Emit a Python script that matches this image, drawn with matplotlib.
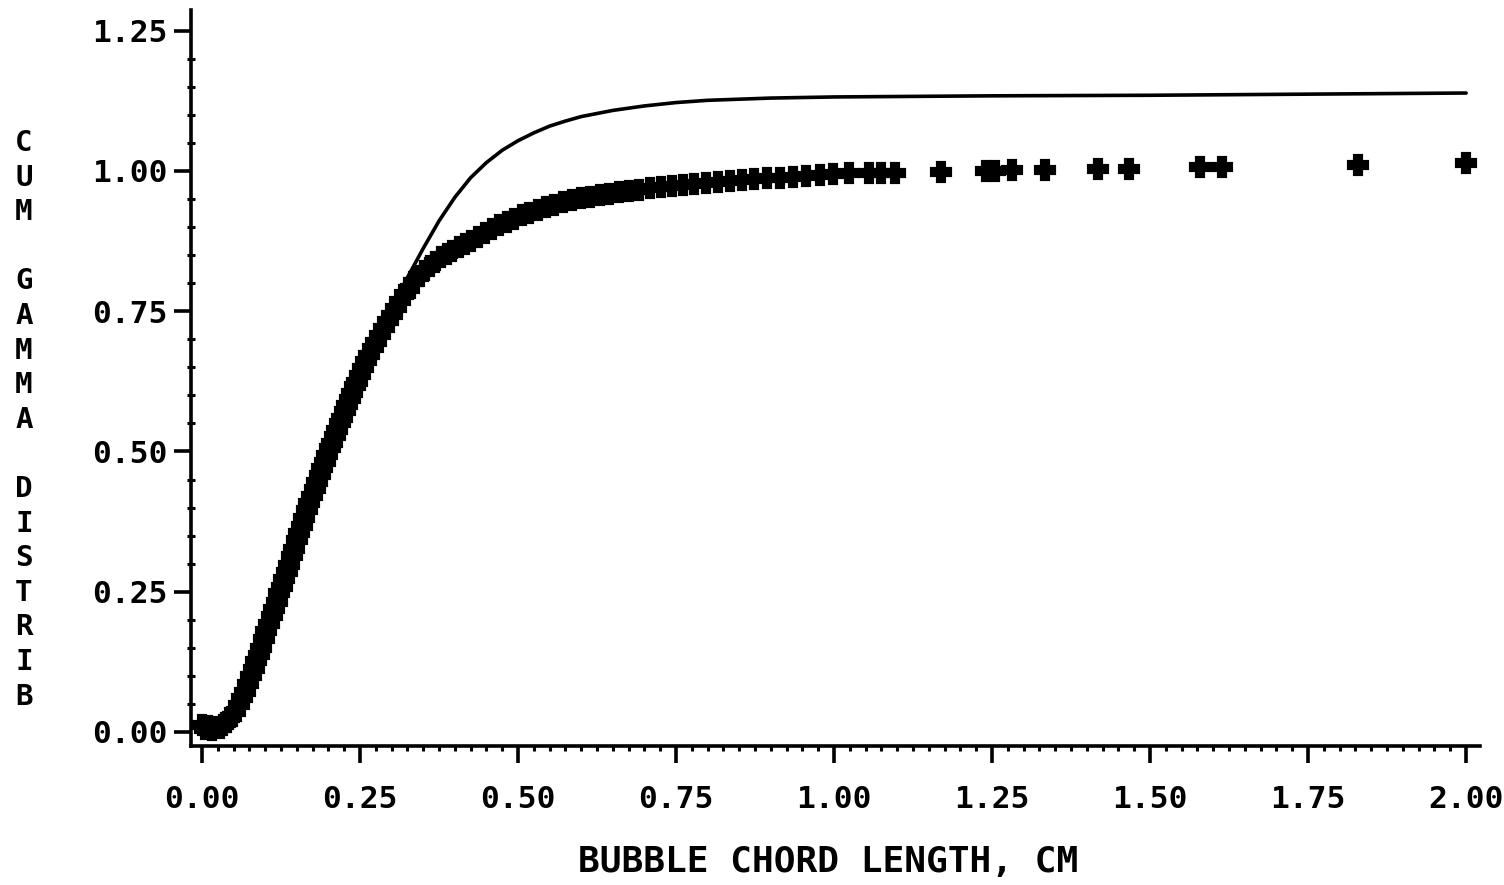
import matplotlib.pyplot as plt
from matplotlib.ticker import MultipleLocator, FormatStrFormatter

# measured bubble chord lengths (cm) and cumulative fraction
chord_x = [
    0.000, 0.004, 0.010, 0.016, 0.022, 0.028, 0.034, 0.040, 0.046, 0.052,
    0.058, 0.063, 0.068, 0.073, 0.078, 0.082, 0.086, 0.090, 0.094, 0.098,
    0.102, 0.106, 0.110, 0.114, 0.118, 0.122, 0.126, 0.130, 0.134, 0.138,
    0.142, 0.146, 0.150, 0.154, 0.158, 0.162, 0.166, 0.170, 0.174, 0.178,
    0.182, 0.186, 0.190, 0.194, 0.198, 0.202, 0.206, 0.210, 0.214, 0.218,
    0.222, 0.226, 0.230, 0.234, 0.238, 0.242, 0.246, 0.250, 0.255, 0.260,
    0.265, 0.270, 0.276, 0.282, 0.288, 0.294, 0.300, 0.307, 0.314, 0.321,
    0.328, 0.336, 0.344, 0.352, 0.360, 0.369, 0.378, 0.387, 0.396, 0.406,
    0.416, 0.426, 0.437, 0.448, 0.459, 0.470, 0.482, 0.494, 0.506, 0.518,
    0.531, 0.544, 0.557, 0.571, 0.585, 0.599, 0.614, 0.629, 0.644, 0.660,
    0.676, 0.692, 0.709, 0.726, 0.743, 0.761, 0.779, 0.797, 0.816, 0.835,
    0.854, 0.874, 0.894, 0.914, 0.935, 0.956, 0.977, 0.998, 1.023, 1.055,
    1.074, 1.097, 1.170, 1.240, 1.255, 1.282, 1.334, 1.417, 1.466, 1.579,
    1.614, 1.829, 2.000]
chord_cum = [
    0.012, 0.006, 0.010, 0.004, 0.008, 0.007, 0.012, 0.018, 0.026, 0.036,
    0.048, 0.060, 0.072, 0.086, 0.100, 0.112, 0.126, 0.138, 0.150, 0.165,
    0.180, 0.192, 0.206, 0.220, 0.232, 0.248, 0.258, 0.272, 0.286, 0.298,
    0.314, 0.326, 0.342, 0.354, 0.368, 0.382, 0.396, 0.408, 0.420, 0.434,
    0.446, 0.458, 0.470, 0.482, 0.494, 0.506, 0.516, 0.528, 0.538, 0.550,
    0.560, 0.572, 0.582, 0.594, 0.604, 0.616, 0.624, 0.636, 0.648, 0.662,
    0.672, 0.684, 0.696, 0.708, 0.720, 0.732, 0.743, 0.756, 0.768, 0.780,
    0.790, 0.802, 0.812, 0.822, 0.830, 0.838, 0.846, 0.852, 0.858, 0.864,
    0.870, 0.876, 0.883, 0.890, 0.896, 0.903, 0.909, 0.915, 0.921, 0.926,
    0.931, 0.936, 0.940, 0.944, 0.948, 0.951, 0.954, 0.957, 0.959, 0.962,
    0.964, 0.967, 0.969, 0.971, 0.973, 0.975, 0.977, 0.979, 0.980, 0.982,
    0.984, 0.985, 0.987, 0.988, 0.990, 0.991, 0.993, 0.994, 0.996, 0.996,
    0.997, 0.997, 0.998, 1.000, 1.000, 1.001, 1.002, 1.003, 1.003, 1.007,
    1.007, 1.010, 1.014]

# fitted cumulative gamma distribution
gamma_x = [0.00, 0.05, 0.10, 0.15, 0.20, 0.25, 0.30, 0.325, 0.35, 0.375,
           0.40, 0.425, 0.45, 0.475, 0.50, 0.525, 0.55, 0.575, 0.60, 0.65,
           0.70, 0.75, 0.80, 0.90, 1.00, 1.25, 1.50, 1.75, 2.00]
gamma_cum = [0.000, 0.030, 0.170, 0.355, 0.505, 0.640, 0.755, 0.810, 0.862, 0.911,
             0.953, 0.988, 1.015, 1.037, 1.054, 1.068, 1.080, 1.089, 1.097, 1.108,
             1.116, 1.122, 1.126, 1.130, 1.132, 1.134, 1.135, 1.137, 1.139]

x_ticks = [0.00, 0.25, 0.50, 0.75, 1.00, 1.25, 1.50, 1.75, 2.00]
y_ticks = [0.00, 0.25, 0.50, 0.75, 1.00, 1.25]
ylabel_letters = ['C', 'U', 'M', '', 'G', 'A', 'M', 'M', 'A', '',
                  'D', 'I', 'S', 'T', 'R', 'I', 'B']
xlabel_text = 'BUBBLE CHORD LENGTH, CM'

font = 'DejaVu Sans Mono'
W, H = 1504, 885
fig = plt.figure(figsize=(W / 100, H / 100), dpi=100)
ax = fig.add_axes([191 / W, 1 - 746 / H, (1480 - 191) / W, (746 - 10) / H])

ax.plot(gamma_x, gamma_cum, color='black', lw=2.6, solid_capstyle='round', zorder=2)
ax.plot(chord_x, chord_cum, ls='none', marker='P', ms=13, mew=3,
        color='black', mfc='black', mec='black', zorder=3)

ax.set_xlim(-0.0174, 2.022)
ax.set_ylim(-0.025, 1.287)

for s in ['top', 'right']:
    ax.spines[s].set_visible(False)
for s in ['left', 'bottom']:
    ax.spines[s].set_linewidth(2.6)

ax.set_xticks(x_ticks)
ax.set_yticks(y_ticks)
ax.xaxis.set_major_formatter(FormatStrFormatter('%.2f'))
ax.yaxis.set_major_formatter(FormatStrFormatter('%.2f'))
ax.xaxis.set_minor_locator(MultipleLocator(0.025))
ax.yaxis.set_minor_locator(MultipleLocator(0.05))

ax.tick_params(axis='x', which='major', direction='out', length=12, width=2.6, pad=16)
ax.tick_params(axis='y', which='major', direction='out', length=12, width=2.6, pad=5)
ax.tick_params(axis='x', which='minor', direction='out', length=3.5, width=2.2)
ax.tick_params(axis='y', which='minor', direction='inout', length=6, width=2.2)

for lab in ax.get_xticklabels() + ax.get_yticklabels():
    lab.set_family(font)
    lab.set_fontweight('bold')
    lab.set_fontsize(22.5)

fig.text(828 / W, 1 - 862 / H, xlabel_text, family=font, fontweight='bold',
         fontsize=26, ha='center', va='center')

for i, ch in enumerate(ylabel_letters):
    fig.text(24 / W, 1 - (143 + i * 34.6) / H, ch, family=font, fontweight='bold',
             fontsize=21, ha='center', va='center')

fig.savefig('out.png', dpi=100)
